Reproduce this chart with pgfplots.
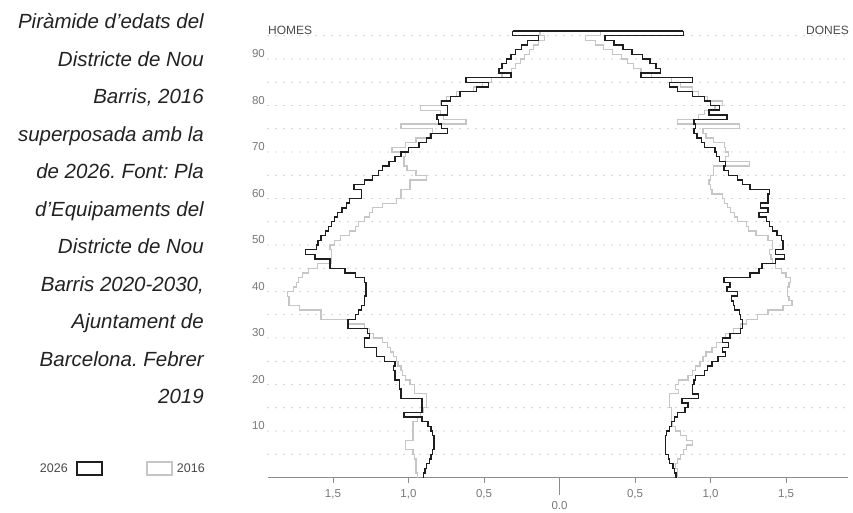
\documentclass[border=0pt]{standalone}
\usepackage{pgfplots}
\usepackage{pgfplotstable}
\pgfplotsset{compat=1.18}
\usepackage{fontspec}
\setmainfont{Liberation Sans}
\frenchspacing
\definecolor{tickgray}{HTML}{777777}
\definecolor{gridgray}{HTML}{ABABAB}
\definecolor{serA}{HTML}{1E1E1E}
\definecolor{serB}{HTML}{C6C6C6}
\definecolor{axgray}{HTML}{8C8C8C}
\definecolor{txt}{HTML}{222222}
\definecolor{lbl}{HTML}{4A4A4A}

% m26/w26 = 2026 (men / women), m16/w16 = 2016; row 96 closes the top step
\pgfplotstableread{
age m26 w26 m16 w16
0 0.90 0.77 0.94 0.78
1 0.89 0.76 0.95 0.78
2 0.88 0.75 0.95 0.77
3 0.86 0.73 0.95 0.78
4 0.85 0.72 0.96 0.80
5 0.84 0.70 0.97 0.82
6 0.83 0.70 1.02 0.84
7 0.83 0.70 1.02 0.88
8 0.83 0.70 0.97 0.84
9 0.84 0.71 0.97 0.80
10 0.85 0.73 0.97 0.77
11 0.87 0.74 0.97 0.75
12 0.91 0.76 0.94 0.74
13 1.03 0.78 0.92 0.74
14 0.91 0.83 0.90 0.74
15 0.91 0.85 0.88 0.73
16 0.91 0.81 0.88 0.73
17 1.05 0.92 0.88 0.73
18 1.05 0.88 0.96 0.79
19 1.06 0.88 0.96 0.77
20 1.06 0.89 0.99 0.79
21 1.09 0.90 1.02 0.85
22 1.09 0.96 1.04 0.88
23 1.10 0.98 1.05 0.90
24 1.09 1.01 1.07 0.93
25 1.16 1.05 1.08 0.95
26 1.21 1.10 1.10 0.97
27 1.21 1.08 1.12 1.01
28 1.29 1.12 1.14 1.04
29 1.29 1.08 1.17 1.08
30 1.26 1.13 1.23 1.10
31 1.27 1.20 1.26 1.15
32 1.40 1.21 1.29 1.20
33 1.40 1.21 1.40 1.24
34 1.35 1.20 1.58 1.31
35 1.33 1.19 1.58 1.38
36 1.31 1.16 1.72 1.48
37 1.29 1.15 1.79 1.54
38 1.29 1.14 1.79 1.52
39 1.28 1.18 1.80 1.51
40 1.28 1.11 1.76 1.51
41 1.28 1.13 1.74 1.52
42 1.29 1.09 1.73 1.53
43 1.35 1.26 1.70 1.50
44 1.42 1.32 1.66 1.47
45 1.52 1.34 1.60 1.43
46 1.52 1.43 1.51 1.41
47 1.62 1.49 1.51 1.40
48 1.68 1.43 1.51 1.39
49 1.61 1.48 1.52 1.41
50 1.60 1.48 1.49 1.41
51 1.58 1.47 1.45 1.38
52 1.55 1.44 1.39 1.30
53 1.53 1.41 1.35 1.25
54 1.51 1.39 1.33 1.24
55 1.49 1.37 1.29 1.18
56 1.47 1.32 1.26 1.16
57 1.44 1.38 1.24 1.13
58 1.41 1.33 1.17 1.11
59 1.39 1.38 1.08 1.09
60 1.31 1.38 1.05 1.08
61 1.31 1.39 1.05 1.01
62 1.36 1.26 0.99 1.00
63 1.29 1.21 0.99 0.99
64 1.24 1.18 0.88 1.00
65 1.20 1.12 0.95 1.02
66 1.17 1.09 1.01 1.02
67 1.13 1.10 1.03 1.26
68 1.09 1.06 1.03 1.10
69 1.05 1.04 1.02 1.12
70 1.00 1.03 1.11 1.10
71 0.93 0.96 1.02 1.09
72 0.88 0.94 0.95 1.02
73 0.85 0.91 0.86 0.97
74 0.74 0.89 0.84 0.95
75 0.78 0.90 1.05 1.19
76 0.80 0.89 0.62 0.78
77 0.81 1.11 0.77 0.92
78 0.74 0.99 0.79 0.96
79 0.74 1.06 0.92 1.03
80 0.78 1.00 0.79 1.08
81 0.72 0.96 0.75 0.98
82 0.66 0.88 0.68 0.92
83 0.55 0.78 0.57 0.88
84 0.47 0.73 0.51 0.80
85 0.62 0.88 0.45 0.74
86 0.32 0.54 0.38 0.61
87 0.40 0.67 0.32 0.54
88 0.38 0.64 0.29 0.49
89 0.35 0.60 0.26 0.45
90 0.32 0.55 0.23 0.41
91 0.29 0.48 0.20 0.35
92 0.25 0.42 0.17 0.29
93 0.21 0.36 0.14 0.24
94 0.14 0.30 0.10 0.17
95 0.31 0.82 0.13 0.27
96 0.31 0.82 0.13 0.27
}\pyr

\begin{document}
\begin{tikzpicture}
\useasboundingbox (0,0) rectangle (853bp,513bp);
\begin{axis}[
  at={(268bp,35.5bp)}, anchor=south west,
  scale only axis, width=580bp, height=448.7bp,
  xmin=-1.93, xmax=1.91, ymin=0, ymax=96.5,
  axis x line*=bottom, axis y line*=left,
  x axis line style={draw=axgray, line width=1.4bp},
  y axis line style={draw=none},
  tick align=outside,
  xtick={-1.5,-1,-0.5,0.5,1,1.5},
  xticklabels={{1,5},{1,0},{0,5},{0,5},{1,0},{1,5}},
  xtick style={draw=axgray, line width=0.9bp},
  major tick length=5bp,
  xticklabel style={font=\fontsize{11.5bp}{13bp}\selectfont, text=tickgray, anchor=north, inner sep=0pt, yshift=-6.5bp},
  extra x ticks={0},
  extra x tick labels={0.0},
  extra x tick style={major tick length=17bp, xticklabel style={yshift=-0.5bp}},
  ytick={5,10,...,95},
  yticklabels={,10,,20,,30,,40,,50,,60,,70,,80,,90,},
  ytick style={draw=none},
  yticklabel style={font=\fontsize{11.5bp}{13bp}\selectfont, text=tickgray, anchor=south east, inner sep=0pt, xshift=2bp, yshift=1bp},
  ymajorgrids,
  grid style={draw=gridgray, line width=1.3bp, dash pattern=on 0bp off 8bp, line cap=round},
  clip=false,
]
\addplot[draw=serB, line width=1.3bp, const plot mark right] table[x expr=-\thisrow{m16}, y=age] {\pyr};
\addplot[draw=serB, line width=1.3bp, const plot mark right] table[x=w16, y=age] {\pyr};
\addplot[draw=serB, line width=1.3bp] coordinates {(-0.13,96) (0.27,96)};
\addplot[draw=serA, line width=1.4bp, const plot mark right] table[x expr=-\thisrow{m26}, y=age] {\pyr};
\addplot[draw=serA, line width=1.4bp, const plot mark right] table[x=w26, y=age] {\pyr};
\addplot[draw=serA, line width=1.4bp] coordinates {(-0.31,96) (0.82,96)};
\end{axis}
\node[anchor=base west, inner sep=0pt, text=lbl, font=\fontsize{12bp}{14bp}\selectfont] at (268bp,478bp) {HOMES};
\node[anchor=base east, inner sep=0pt, text=lbl, font=\fontsize{12bp}{14bp}\selectfont] at (849bp,478bp) {DONES};
\begin{scope}[every node/.style={anchor=base east, inner sep=0pt, text=txt, font=\fontsize{20.5bp}{24bp}\selectfont\itshape}]
\node at (204bp,484bp) {Piràmide d'edats del};
\node at (204bp,446.5bp) {Districte de Nou};
\node at (204bp,409bp) {Barris, 2016};
\node at (204bp,371.5bp) {superposada amb la};
\node at (204bp,334bp) {de 2026. Font: Pla};
\node at (204bp,296.5bp) {d’Equipaments del};
\node at (204bp,259bp) {Districte de Nou};
\node at (204bp,221.5bp) {Barris 2020-2030,};
\node at (204bp,184bp) {Ajuntament de};
\node at (204bp,146.5bp) {Barcelona. Febrer};
\node at (204bp,109bp) {2019};
\end{scope}
\node[anchor=base east, inner sep=0pt, text=lbl, font=\fontsize{12.5bp}{14bp}\selectfont] at (68bp,40bp) {2026};
\draw[serA, line width=1.2bp] (77bp,38bp) rectangle (102bp,51bp);
\draw[serB, line width=1.2bp] (147bp,38bp) rectangle (172bp,51bp);
\node[anchor=base east, inner sep=0pt, text=lbl, font=\fontsize{12.5bp}{14bp}\selectfont] at (205bp,40bp) {2016};
\end{tikzpicture}
\end{document}
